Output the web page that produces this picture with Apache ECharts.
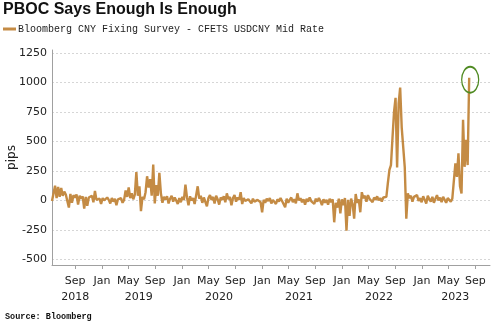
<!DOCTYPE html>
<html>
<head>
<meta charset="utf-8">
<script src="https://cdn.jsdelivr.net/npm/echarts@6/dist/echarts.min.js"></script>
<style>html,body{margin:0;padding:0;background:#fff}#c{width:500px;height:332px}</style>
</head>
<body>
<div id="c"></div>
<script>
// Weekly observations (Fridays), pips
const firstWeek = '2018-06-01';
const v2018 = [-5,10,125,20,115, 30,105,40,75, 50,65,-60,55,-20, 45,25,50,-35, 40,15,35,-70, 30,-45,25,10,40, -15,80,5,20];
const v2019 = [15,-30,20,0, -15,25,5,-25, 20,-10,15,-40,10, -5,20,-20,5, 85,30,110,20,60, 10,50,240,40, 120,-90,30,10, 70,205,110,180,40, 305,-25,130,40, 235,60,-20,30, 10,35,-25,15,40, -10,25,0,-30];
const v2020 = [20,-15,30,5,135, 25,-40,35,0, 20,-30,45,120, 15,40,-20,25, 35,-50,20,45,5, 30,-25,40,10, -35,25,5,35,-15, 60,10,30,-40, 20,45,-10,25, 5,70,-30,20,-5, -15,10,5,-25, 15,-10,-20,5];
const v2021 = [10,-15,-100,5,-20, 15,-5,20,-25, 5,15,-30,10, -10,20,-5,10,-57, 15,-20,5,25, -15,10,-25,60, 0,20,-15,10,-35, 15,-10,25,-5, 10,-30,15,-10, 20,-5,-40,10,-20, 5,-35,15,-15, 10,-185,-20,-60,15];
const v2022 = [-110,10,-40,20, -256,5,-130,15, -30,-155,55,-20, 10,-100,70,20,40, -10,45,15,30, -15,25,5,35, 0,20,-10,25,10, 30,150,260,300, 530,750,870,280,820, 957,620,450,280, -155,60,20,40, -10,30,15,45,-5];
const v2023 = [20,-15,35,5, -25,40,10,-10, 30,-20,15,45,0, 25,-15,30,5, -20,20,10,-10, 15,25,315,200,400, 120,60,684,285, 513,300,1040];
const seriesName = 'Bloomberg CNY Fixing Survey - CFETS USDCNY Mid Rate';
const yTicks = [-500,-250,0,250,500,750,1000,1250];
const monthTicks = ['2018-09-15','2019-01-15','2019-05-15','2019-09-15','2020-01-15','2020-05-15','2020-09-15','2021-01-15','2021-05-15','2021-09-15','2022-01-15','2022-05-15','2022-09-15','2023-01-15','2023-05-15','2023-09-15'];
const yearTicks = ['2018-09-15','2019-07-02','2020-07-02','2021-07-02','2022-07-02','2023-06-15'];
const monthNames = ['Jan','Feb','Mar','Apr','May','Jun','Jul','Aug','Sep','Oct','Nov','Dec'];

const DAY = 24*3600*1000;
const ts = s => { const p = s.split('-').map(Number); return Date.UTC(p[0], p[1]-1, p[2]); };
const origin = ts('2018-06-01');                 // axis start
const dayOf = s => Math.round((ts(s) - origin) / DAY);
const dateOf = d => new Date(origin + d*DAY);
const values = [].concat(v2018, v2019, v2020, v2021, v2022, v2023);
const firstDay = dayOf(firstWeek);
const data = values.map((v, i) => [firstDay + i*7, v]);
const peak = data[data.length-1];

const xMax = dayOf('2023-11-21');
const lineColor = '#C48B44';
const axisGray = '#a0a0a0';
const labelFont = 'DejaVu Sans';

const chart = echarts.init(document.getElementById('c'), null, {renderer:'canvas'});
chart.setOption({
  animation: false,
  backgroundColor: '#fff',
  title: [
    {text: 'PBOC Says Enough Is Enough', left: 3, top: 2, padding: 0,
     textStyle: {fontFamily: 'Liberation Sans', fontSize: 16, fontWeight: 'bold', color: '#111'}},
    {text: 'Source: Bloomberg', left: 5, top: 312, padding: 0,
     textStyle: {fontFamily: 'Liberation Mono', fontSize: 8.5, fontWeight: 'bold', color: '#111'}}
  ],
  legend: {
    data: [seriesName], left: 3, top: 24, padding: 0,
    icon: 'rect', itemWidth: 13, itemHeight: 3,
    textStyle: {fontFamily: 'Liberation Mono', fontSize: 10, color: '#222', padding: [0,0,0,-3]}
  },
  grid: {left: 52, right: 10, top: 50, bottom: 67, containLabel: false, outerBoundsMode: 'none'},
  xAxis: [
    {type: 'value', min: 0, max: xMax,
     axisLine: {onZero: false, lineStyle: {color: axisGray, width: 1}},
     axisTick: {show: true, length: 4, lineStyle: {color: axisGray}, customValues: monthTicks.map(dayOf)},
     axisLabel: {customValues: monthTicks.map(dayOf), margin: 11, fontFamily: labelFont, fontSize: 11, color: '#222',
       formatter: v => monthNames[dateOf(v).getUTCMonth()]},
     splitLine: {show: false}},
    {type: 'value', min: 0, max: xMax, position: 'bottom',
     axisLine: {show: false, onZero: false}, axisTick: {show: false},
     axisLabel: {customValues: yearTicks.map(dayOf), margin: 27, fontFamily: labelFont, fontSize: 11, color: '#222',
       formatter: v => String(dateOf(v).getUTCFullYear())},
     splitLine: {show: false}}
  ],
  yAxis: {
    type: 'value', min: -547, max: 1275,
    name: 'pips', nameLocation: 'middle', nameGap: 34, nameRotate: 90, nameMoveOverlap: false,
    nameTextStyle: {fontFamily: labelFont, fontSize: 12, color: '#222'},
    axisLine: {show: true, lineStyle: {color: axisGray, width: 1}},
    axisTick: {show: false, customValues: yTicks},
    axisLabel: {customValues: yTicks, margin: 5, fontFamily: labelFont, fontSize: 11, color: '#222',
      formatter: v => String(v)},
    splitLine: {show: true, lineStyle: {color: '#d6d6d6', type: [2,2], width: 1}}
  },
  series: [{
    name: seriesName, type: 'line', data: data, xAxisIndex: 0,
    showSymbol: false, symbol: 'none', color: lineColor,
    lineStyle: {color: lineColor, width: 2.4},
    markPoint: {
      symbol: 'circle', symbolSize: [17, 26], symbolOffset: [1, 2],
      itemStyle: {color: 'rgba(0,0,0,0)', borderColor: '#4f8a22', borderWidth: 1.5},
      label: {show: false},
      data: [{coord: peak}]
    }
  }]
});
</script>
</body>
</html>
